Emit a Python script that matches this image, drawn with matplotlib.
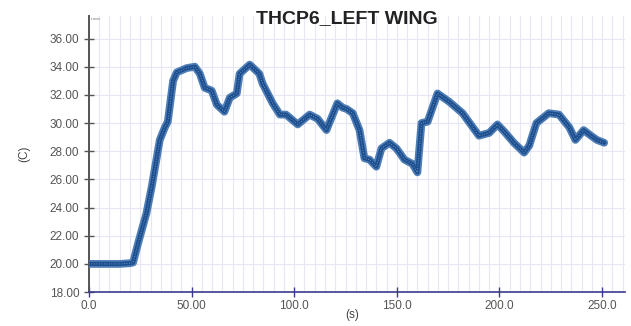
import matplotlib
matplotlib.use("Agg")
import matplotlib.pyplot as plt
from matplotlib.ticker import MultipleLocator, FixedLocator

plt.rcParams["font.family"] = ["Liberation Sans", "DejaVu Sans"]

# Thermocouple THCP6 (left wing) temperature trace
time_s = [0, 5, 10, 15, 20, 21.5, 24, 28, 30.6, 34.5, 37, 38.4, 41, 42.8, 47.6,
          51.6, 54, 56.4, 59.8, 62.3, 66, 68.6, 72, 73.4, 78.3, 83, 84.6, 89.5,
          93, 96, 101.7, 107.5, 111.4, 115.7, 121, 123.5, 125.5, 128.5, 131.8,
          134.2, 136.7, 140, 142.5, 146.4, 149.8, 153.7, 157.6, 160, 162, 165,
          169.8, 175.6, 182, 190, 195, 199, 202.3, 207, 212, 214.5, 218, 224,
          229, 234, 237, 241, 244.6, 247.5, 251]
temp_c = [20.0, 20.0, 20.0, 20.0, 20.05, 20.1, 21.5, 23.6, 25.5, 28.8, 29.7, 30.1,
          33.0, 33.6, 33.9, 34.0, 33.5, 32.5, 32.3, 31.3, 30.8, 31.8, 32.1, 33.5,
          34.15, 33.5, 32.8, 31.4, 30.6, 30.6, 29.9, 30.6, 30.3, 29.5, 31.4, 31.1,
          31.0, 30.7, 29.5, 27.5, 27.4, 26.9, 28.2, 28.6, 28.2, 27.4, 27.1, 26.5,
          30.0, 30.1, 32.1, 31.5, 30.7, 29.1, 29.3, 29.9, 29.4, 28.6, 27.9, 28.4,
          30.0, 30.7, 30.6, 29.7, 28.8, 29.5, 29.1, 28.8, 28.6]

x_ticks = [0, 50, 100, 150, 200, 250]
x_tick_labels = ["0.0", "50.00", "100.0", "150.0", "200.0", "250.0"]
y_ticks = [18, 20, 22, 24, 26, 28, 30, 32, 34, 36]
y_tick_labels = ["%.2f" % v for v in y_ticks]

fig = plt.figure(figsize=(6.31, 3.26), dpi=100)
ax = fig.add_axes([0.141, 0.104, 0.849, 0.847])

ax.set_xlim(0, 261)
ax.set_ylim(18, 37.6)

# grid
ax.xaxis.set_minor_locator(MultipleLocator(5))
ax.yaxis.set_minor_locator(FixedLocator(y_ticks))
ax.grid(which="minor", axis="x", color="#e6e6f5", lw=0.8)
ax.grid(which="minor", axis="y", color="#efeff6", lw=0.8)
ax.grid(which="major", color="#e6e6f5", lw=0.8)
ax.set_axisbelow(True)

# data trace: thick band with a darker core
ax.plot(time_s, temp_c, color="#4f7db5", lw=5.6, solid_capstyle="round",
        solid_joinstyle="round", zorder=3)
ax.plot(time_s, temp_c, color="#1d4f8f", lw=3.0, solid_capstyle="round",
        solid_joinstyle="round", zorder=4)
ax.plot(time_s, temp_c, color="#7fa3cf", lw=0.6, ls=(0, (1, 2)), zorder=5)

ax.set_xticks(x_ticks)
ax.set_xticklabels(x_tick_labels)
ax.set_yticks(y_ticks)
ax.set_yticklabels(y_tick_labels)

ax.tick_params(axis="both", which="major", direction="inout", length=7,
               width=1.0, labelsize=8.5, labelcolor="#555555", color="#555555")
ax.tick_params(axis="x", which="major", color="#3b3b8f", pad=2)
ax.tick_params(which="minor", length=0)

for side in ("top", "right"):
    ax.spines[side].set_visible(False)
ax.spines["left"].set_color("#555555")
ax.spines["left"].set_linewidth(1.4)
ax.spines["bottom"].set_color("#3b3b8f")
ax.spines["bottom"].set_linewidth(1.2)

ax.set_ylabel("(C)", fontsize=8.5, color="#444444", labelpad=14)
fig.text(352 / 631, 0.035, "(s)", ha="center", va="center",
         fontsize=8.5, color="#444444")

ax.text(0.004, 0.995, "t-axis", transform=ax.transAxes, fontsize=3,
        color="#777777", va="top", ha="left")

fig.text(0.55, 0.942, "THCP6_LEFT WING", ha="center", va="center",
         fontsize=14, fontweight="bold", color="#222222")

fig.savefig("out.png", dpi=100, facecolor="white")
